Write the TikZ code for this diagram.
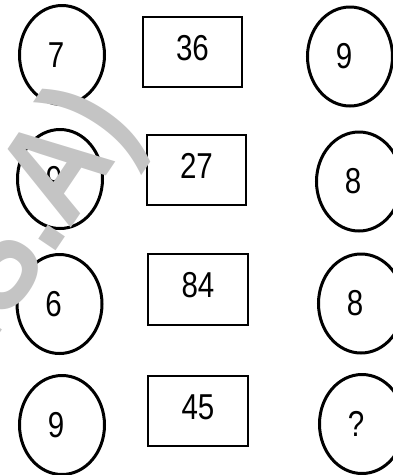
\documentclass[tikz,border=0pt]{standalone}
\usepackage{fontspec}
\usepackage{tikz}
\newfontfamily\narrowsans[FakeStretch=0.82]{Liberation Sans}
\newfontfamily\wmsans[FakeStretch=0.85]{Liberation Sans}
\usetikzlibrary{shapes.geometric}
\definecolor{Ink}{HTML}{000000}
\definecolor{Wmgrey}{HTML}{C4C4C4}
\tikzset{
  numtext/.style={font=\narrowsans\fontsize{36}{40}\selectfont, text=Ink, inner sep=0pt},
  ring/.style={draw=Ink, ellipse, line width=3pt, minimum width=85pt, minimum height=99pt, inner sep=0pt},
  numbox/.style={draw=Ink, rectangle, line width=1.6pt, minimum width=99.5pt, minimum height=70.5pt, inner sep=0pt},
  wmark/.style={font=\wmsans\bfseries\fontsize{140}{140}\selectfont, text=Wmgrey, inner sep=0pt},
  every label/.style={numtext},
}
\begin{document}
\begin{tikzpicture}[x=1pt, y=-1pt]
  \useasboundingbox (0,0) rectangle (392,475);
  % left column
  \node[ring, label={[xshift=-6pt]center:7}] (l1) at (62,55) {};
  \node[ring, label={[xshift=-6pt]center:9}] (l2) at (60,179) {};
  \node[ring, label={[xshift=-6pt]center:6}] (l3) at (59.5,304) {};
  \node[ring, label={[xshift=-6pt]center:9}] (l4) at (62,425) {};
  % middle column
  \node[numbox, label={[yshift=4pt]center:36}] (m1) at (192.5,52) {};
  \node[numbox, label={[yshift=4pt]center:27}] (m2) at (196.5,170) {};
  \node[numbox, label={[yshift=4pt]center:84}] (m3) at (198,289.5) {};
  \node[numbox, label={[yshift=4pt]center:45}] (m4) at (198,411) {};
  % right column
  \node[ring, label={[xshift=-6pt]center:9}] (r1) at (350,56.5) {};
  \node[ring, label={[xshift=-6pt]center:8}] (r2) at (359,181.5) {};
  \node[ring, label={[xshift=-6pt]center:8}] (r3) at (361,303.5) {};
  \node[ring, label={[xshift=-6pt]center:?}] (r4) at (362,424) {};
  % watermark
  \node[wmark, rotate=56, anchor=base east] (wm) at (140,126) {(U.S.A)};
\end{tikzpicture}
\end{document}
